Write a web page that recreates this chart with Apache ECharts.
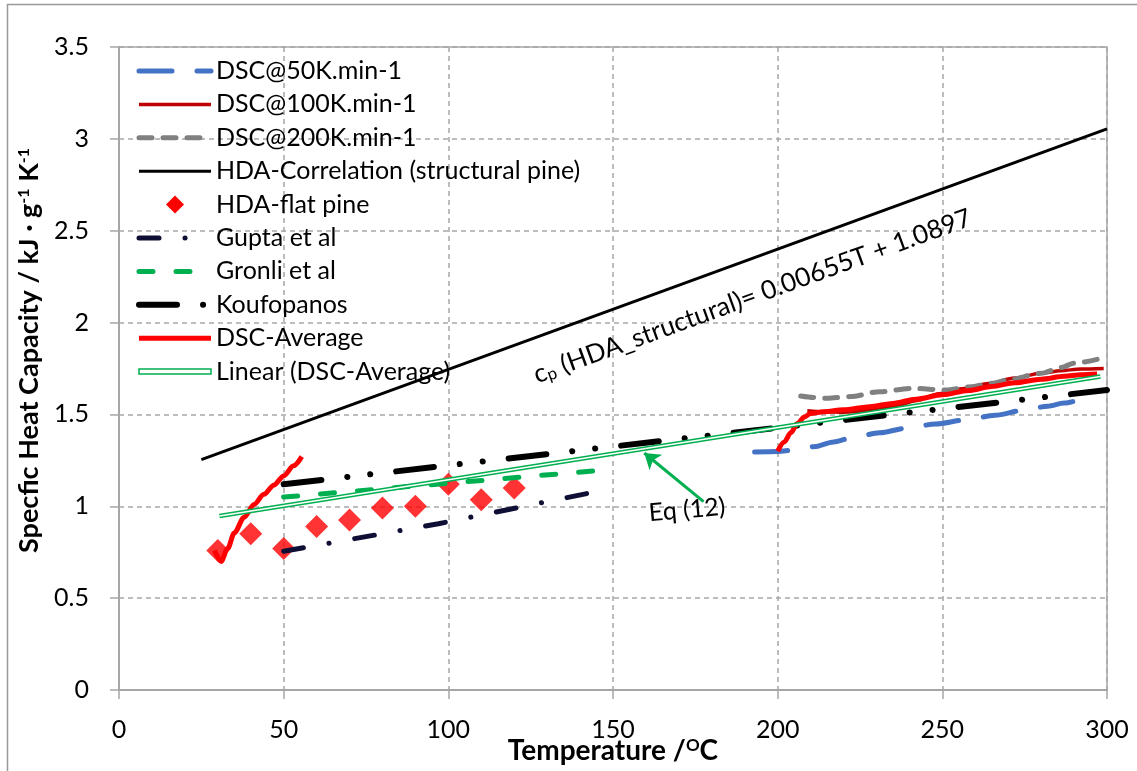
<!DOCTYPE html>
<html>
<head>
<meta charset="utf-8">
<script src="https://cdn.jsdelivr.net/npm/echarts@6/dist/echarts.min.js"></script>
<style>
  html, body { margin: 0; padding: 0; background: #fff; }
  #chart { width: 1137px; height: 771px; }
</style>
</head>
<body>
<div id="chart"></div>
<script>
// Axis ranges and tick spacing
const xRange = [0, 300];
const xStep = 50;
const yRange = [0, 3.5];
const yStep = 0.5;

// DSC runs at three heating rates: [temperature °C, cp kJ/(g·K)]
const dsc50 = [[193,1.295],[200,1.298],[205,1.306],[211,1.324],[217,1.35],[222,1.37],[231,1.40],[239,1.425],[248,1.448],[257,1.47],[266,1.495],[275,1.524],[282,1.545],[287,1.562],[292,1.582]];
const dsc100 = [[209,1.52],[214,1.515],[220,1.512],[228,1.522],[235,1.542],[242,1.575],[249,1.612],[256,1.64],[264,1.668],[272,1.698],[280,1.724],[286,1.738],[292,1.747],[299,1.75]];
const dsc200 = [[207,1.60],[211,1.592],[215,1.588],[222,1.597],[231,1.624],[241,1.642],[251,1.633],[259,1.651],[265,1.67],[270,1.688],[280,1.724],[286,1.755],[290,1.779],[297,1.80]];

// HDA correlation for structural pine: cp = 0.00655T + 1.0897 (end points)
const hdaStructural = [[25,1.2535],[300,3.0547]];

// HDA measurements, flat pine
const flatPineT = [30,40,50,60,70,80,90,100,110,120];
const flatPineCp = [0.76,0.85,0.77,0.89,0.925,0.99,1.0,1.12,1.035,1.10];

// Literature correlations
const gupta = [[50,0.755],[97,0.905],[145,1.08]];
const gronli = [[50,1.05],[146,1.195]];
const koufopanos = [[50,1.12],[300,1.633]];

// Averaged DSC curve (two temperature windows) and its linear fit
const dscAvgLow = [[29,0.76],[31,0.70],[33,0.77],[35,0.855],[38,0.94],[41,1.01],[44,1.065],[47,1.115],[50,1.165],[53,1.22],[55.5,1.27]];
const dscAvgHigh = [[200,1.30],[202,1.35],[204,1.40],[206,1.45],[208,1.485],[210,1.505],[214,1.515],[220,1.525],[228,1.542],[235,1.56],[242,1.583],[250,1.607],[258,1.63],[265,1.652],[272,1.672],[280,1.692],[287,1.708],[292,1.716],[297,1.72]];
const dscAvgLinear = [[30.5,0.947],[298,1.706]];

// Annotation anchors in data space
const eqArrow = [[177.5,1.025],[159.5,1.29]];
const formulaAnchor = [127.5, 1.645];
const eqLabelAnchor = [172.5, 0.98];

const FONT = 'Lato, "Open Sans", sans-serif';
const gridColor = '#a6a6a6';

const chart = echarts.init(document.getElementById('chart'), null, { renderer: 'canvas' });

const flatPine = flatPineT.map((t, i) => [t, flatPineCp[i]]);

const option = {
  animation: false,
  backgroundColor: '#fff',
  grid: {
    left: 119, right: 30, top: 47, bottom: 81,
    containLabel: false,
    outerBoundsMode: 'none',
    show: true, borderColor: gridColor, borderWidth: 1.5
  },
  legend: {
    orient: 'vertical',
    left: 136, top: 58,
    padding: 0,
    itemWidth: 72, itemHeight: 18, itemGap: 7.4,
    symbolKeepAspect: true,
    textStyle: { fontFamily: FONT, fontSize: 25, color: '#000', lineHeight: 26 },
    itemStyle: { opacity: 0 },
    lineStyle: { width: 'inherit' },
    data: [
      'DSC@50K.min-1',
      'DSC@100K.min-1',
      'DSC@200K.min-1',
      'HDA-Correlation (structural pine)',
      { name: 'HDA-flat pine', icon: 'path://M9,0L18,9L9,18L0,9Z', itemStyle: { opacity: 1, color: '#ff0000' } },
      'Gupta et al',
      'Gronli et al',
      'Koufopanos',
      'DSC-Average',
      { name: 'Linear (DSC-Average)', icon: 'path://M0,0H72V5H0Z',
        itemStyle: { opacity: 1, color: '#fff', borderColor: '#00b050', borderWidth: 1.5 } }
    ]
  },
  xAxis: {
    type: 'value',
    min: xRange[0], max: xRange[1], interval: xStep,
    name: 'Temperature /{sup|O}C',
    nameLocation: 'middle',
    nameGap: 47,
    nameMoveOverlap: false,
    nameTextStyle: {
      fontFamily: FONT, fontSize: 28, fontWeight: 'bold', color: '#000',
      rich: { sup: { fontFamily: FONT, fontSize: 17, fontWeight: 'bold', color: '#000', verticalAlign: 'top' } }
    },
    axisLine: { show: true, lineStyle: { color: gridColor, width: 2 } },
    axisTick: { show: true, length: 9, lineStyle: { color: gridColor, width: 1.5 } },
    axisLabel: { fontFamily: FONT, fontSize: 25, color: '#000', margin: 27 },
    splitLine: { show: true, lineStyle: { type: [5, 4], color: gridColor, width: 1.5 } }
  },
  yAxis: {
    type: 'value',
    min: yRange[0], max: yRange[1], interval: yStep,
    name: 'Specfic Heat Capacity / kJ · g{sup|-1} K{sup|-1}',
    nameLocation: 'middle',
    nameGap: 62,
    nameTextStyle: {
      fontFamily: FONT, fontSize: 27, fontWeight: 'bold', color: '#000',
      padding: [0, 0, 0, 36],
      rich: { sup: { fontFamily: FONT, fontSize: 16, fontWeight: 'bold', color: '#000', verticalAlign: 'top' } }
    },
    axisLine: { show: true, lineStyle: { color: gridColor, width: 2 } },
    axisTick: { show: true, length: 9, lineStyle: { color: gridColor, width: 1.5 } },
    axisLabel: { fontFamily: FONT, fontSize: 25, color: '#000', margin: 30 },
    splitLine: { show: true, lineStyle: { type: [5, 4], color: gridColor, width: 1.5 } }
  },
  series: [
    {
      name: 'DSC@50K.min-1', type: 'line', data: dsc50, symbol: 'none',
      smooth: 0.3, smoothMonotone: 'x', color: '#4472c4',
      lineStyle: { color: '#4472c4', width: 5, type: [33, 25], cap: 'round' }
    },
    {
      name: 'DSC@100K.min-1', type: 'line', data: dsc100, symbol: 'none',
      smooth: 0.3, smoothMonotone: 'x', color: '#c00000',
      lineStyle: { color: '#c00000', width: 3.5 }
    },
    {
      name: 'DSC@200K.min-1', type: 'line', data: dsc200, symbol: 'none',
      smooth: 0.3, smoothMonotone: 'x', color: '#808080',
      lineStyle: { color: '#808080', width: 5, type: [13, 11], cap: 'round' }
    },
    {
      name: 'HDA-Correlation (structural pine)', type: 'line', data: hdaStructural, symbol: 'none',
      color: '#000', lineStyle: { color: '#000', width: 3 }
    },
    {
      name: 'HDA-flat pine', type: 'scatter', data: flatPine,
      symbol: 'diamond', symbolSize: 23, color: '#ff0000',
      itemStyle: { color: '#ff0000' }
    },
    {
      name: 'Gupta et al', type: 'line', data: gupta, symbol: 'none',
      color: '#0f0f35',
      lineStyle: { color: '#0f0f35', width: 5, type: [20, 26, 0.1, 26], cap: 'round' }
    },
    {
      name: 'Gronli et al', type: 'line', data: gronli, symbol: 'none',
      color: '#00b050',
      lineStyle: { color: '#00b050', width: 5, type: [14, 23], cap: 'round' }
    },
    {
      name: 'Koufopanos', type: 'line', data: koufopanos, symbol: 'none',
      color: '#000',
      lineStyle: { color: '#000', width: 6, type: [38, 26, 0.1, 23, 0.1, 26], cap: 'round' }
    },
    {
      name: 'DSC-Average', type: 'line', data: dscAvgLow, symbol: 'none',
      smooth: 0.3, smoothMonotone: 'x', color: '#ff0000',
      lineStyle: { color: '#ff0000', width: 5 }
    },
    {
      name: 'DSC-Average', type: 'line', data: dscAvgHigh, symbol: 'none',
      smooth: 0.3, smoothMonotone: 'x', color: '#ff0000',
      lineStyle: { color: '#ff0000', width: 5 }
    },
    {
      name: 'Linear (DSC-Average)', type: 'line', data: dscAvgLinear, symbol: 'none',
      color: '#00b050', z: 5,
      lineStyle: { color: '#00b050', width: 4.5 },
      markLine: {
        silent: true,
        symbol: ['none', 'arrow'],
        symbolSize: 15,
        label: { show: false },
        lineStyle: { color: '#00b050', width: 3, type: 'solid' },
        data: [[{ coord: eqArrow[0] }, { coord: eqArrow[1] }]]
      }
    },
    {
      name: 'linear-core', type: 'line', data: dscAvgLinear, symbol: 'none',
      color: '#fff', z: 6, silent: true,
      lineStyle: { color: '#fff', width: 1.6 }
    }
  ]
};

chart.setOption(option);

// Text annotations placed from data coordinates
const pF = chart.convertToPixel({ gridIndex: 0 }, formulaAnchor);
const pE = chart.convertToPixel({ gridIndex: 0 }, eqLabelAnchor);

chart.setOption({
  graphic: [
    {
      type: 'rect', silent: true, z: -10,
      shape: { x: 7.5, y: 4.5, width: 1200, height: 800 },
      style: { fill: 'none', stroke: '#999', lineWidth: 1.5 }
    },
    {
      type: 'text', silent: true, z: 10,
      x: pF[0], y: pF[1], rotation: 20 * Math.PI / 180,
      style: {
        text: 'c{sub|p} (HDA_structural)= 0.00655T + 1.0897',
        fontFamily: FONT, fontSize: 26, fill: '#000',
        align: 'left', verticalAlign: 'bottom',
        rich: { sub: { fontFamily: FONT, fontSize: 17, fill: '#000', verticalAlign: 'bottom' } }
      }
    },
    {
      type: 'text', silent: true, z: 10,
      x: pE[0], y: pE[1], rotation: 5 * Math.PI / 180,
      style: {
        text: 'Eq (12)',
        fontFamily: FONT, fontSize: 25, fill: '#000',
        align: 'center', verticalAlign: 'middle'
      }
    }
  ]
});
</script>
</body>
</html>
